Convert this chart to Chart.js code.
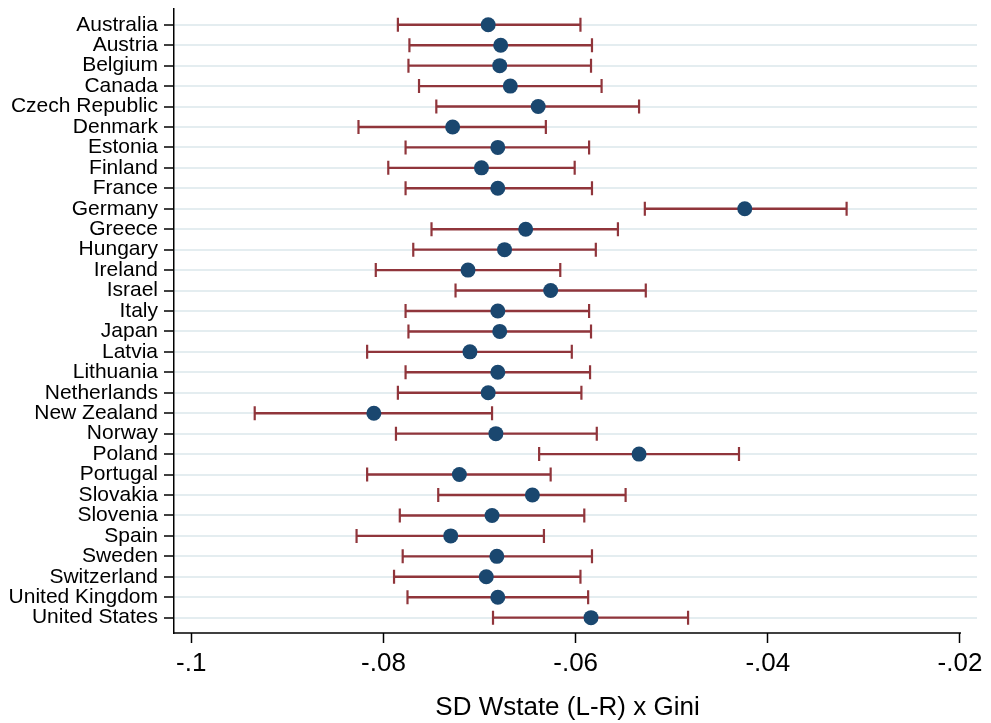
<!DOCTYPE html>
<html>
<head>
<meta charset="utf-8">
<script src="https://cdn.jsdelivr.net/npm/chart.js@4"></script>
<style>
	html, body { margin: 0; padding: 0; background: #ffffff; }
	canvas { display: block; }
</style>
</head>
<body>
<canvas id="coefPlot" width="991" height="723"></canvas>
<script>
// countries, top to bottom
const countries = ["Australia", "Austria", "Belgium", "Canada", "Czech Republic", "Denmark", "Estonia",
	"Finland", "France", "Germany", "Greece", "Hungary", "Ireland", "Israel", "Italy", "Japan", "Latvia",
	"Lithuania", "Netherlands", "New Zealand", "Norway", "Poland", "Portugal", "Slovakia", "Slovenia",
	"Spain", "Sweden", "Switzerland", "United Kingdom", "United States"];

const coef = [-0.0691, -0.0678, -0.0679, -0.0668, -0.0639, -0.0728, -0.0681, -0.0698, -0.0681, -0.0424,
	-0.0652, -0.0674, -0.0712, -0.0626, -0.0681, -0.0679, -0.0710, -0.0681, -0.0691, -0.0810,
	-0.0683, -0.0534, -0.0721, -0.0645, -0.0687, -0.0730, -0.0682, -0.0693, -0.0681, -0.0584];

const lower = [-0.0785, -0.0773, -0.0774, -0.0763, -0.0745, -0.0826, -0.0777, -0.0795, -0.0777, -0.0528,
	-0.0750, -0.0769, -0.0808, -0.0725, -0.0777, -0.0774, -0.0817, -0.0777, -0.0785, -0.0934,
	-0.0787, -0.0638, -0.0817, -0.0743, -0.0783, -0.0828, -0.0780, -0.0789, -0.0775, -0.0686];

const upper = [-0.0595, -0.0583, -0.0584, -0.0573, -0.0534, -0.0631, -0.0586, -0.0601, -0.0583, -0.0318,
	-0.0556, -0.0579, -0.0616, -0.0527, -0.0586, -0.0584, -0.0604, -0.0585, -0.0594, -0.0687,
	-0.0578, -0.0430, -0.0626, -0.0548, -0.0591, -0.0633, -0.0583, -0.0595, -0.0587, -0.0483];

const xTicks = [-0.1, -0.08, -0.06, -0.04, -0.02];
const xTickLabels = ["-.1", "-.08", "-.06", "-.04", "-.02"];
const xTitle = "SD Wstate (L-R) x Gini";

const fontFamily = "'Liberation Sans', Arial, Helvetica, sans-serif";

// dots
let points = [];
coef.forEach((v, i) => {
	points.push({ x: v, y: i });
});

// whiskers, one segment per country, broken by nulls
let whiskers = [];
countries.forEach((c, i) => {
	whiskers.push({ x: lower[i], y: i });
	whiskers.push({ x: upper[i], y: i });
	whiskers.push({ x: null, y: null });
});

// x axis line only spans up to the last tick, title centred on that span
const xAxisLine = {
	id: 'xAxisLine',
	afterDraw(chart) {
		let ctx = chart.ctx;
		let area = chart.chartArea;
		let xs = chart.scales.x;
		let right = xs.getPixelForValue(xTicks[xTicks.length - 1]) + 1;
		ctx.save();
		ctx.strokeStyle = '#000000';
		ctx.lineWidth = 1.5;
		ctx.beginPath();
		ctx.moveTo(area.left, area.bottom);
		ctx.lineTo(right, area.bottom);
		ctx.stroke();

		ctx.fillStyle = '#000000';
		ctx.font = '26px ' + fontFamily;
		ctx.textAlign = 'center';
		ctx.textBaseline = 'alphabetic';
		ctx.fillText(xTitle, (area.left + right) / 2, 715);
		ctx.restore();
	}
};

let target = document.getElementById('coefPlot');
new Chart(target, {
	type : 'scatter',
	data : {
		datasets : [{
			label : 'coef',
			data : points,
			order : 0,
			pointRadius : 7.5,
			pointHoverRadius : 7.5,
			backgroundColor : '#1a476f',
			borderWidth : 0
		}, {
			label : 'ci',
			data : whiskers,
			order : 1,
			showLine : true,
			spanGaps : false,
			borderColor : '#90353b',
			borderWidth : 2.4,
			pointStyle : 'line',
			rotation : 90,
			pointRadius : 7,
			pointHoverRadius : 7,
			pointBorderColor : '#90353b',
			pointBorderWidth : 2.2
		}]
	},
	options : {
		responsive : false,
		animation : false,
		events : [],
		layout : {
			padding : { top : 7, right : 14, left : 0, bottom : 0 }
		},
		plugins : {
			legend : { display : false },
			tooltip : { enabled : false }
		},
		scales : {
			x : {
				type : 'linear',
				min : -0.1018,
				max : -0.01823,
				afterBuildTicks : function(scale) {
					scale.ticks = xTicks.map(v => ({ value : v }));
				},
				afterFit : function(scale) {
					scale.height = 90;
					scale.paddingLeft = 0;
					scale.paddingRight = 0;
				},
				border : { display : false },
				grid : {
					drawOnChartArea : false,
					drawTicks : true,
					tickLength : 10,
					tickWidth : 1.5,
					tickColor : '#000000'
				},
				ticks : {
					autoSkip : false,
					maxRotation : 0,
					padding : 5,
					color : '#000000',
					font : { family : fontFamily, size : 26 },
					callback : function(value) {
						let idx = xTicks.indexOf(value);
						return idx >= 0 ? xTickLabels[idx] : '';
					}
				}
			},
			y : {
				type : 'linear',
				reverse : true,
				min : -0.76,
				max : 29.75,
				afterBuildTicks : function(scale) {
					scale.ticks = countries.map((c, i) => ({ value : i }));
				},
				afterFit : function(scale) {
					scale.width = 174;
					scale.paddingTop = 0;
					scale.paddingBottom = 0;
				},
				border : { display : true, color : '#000000', width : 1.5 },
				grid : {
					color : '#e4edf0',
					lineWidth : 2,
					drawTicks : true,
					tickLength : 10,
					tickWidth : 1.5,
					tickColor : '#000000'
				},
				ticks : {
					autoSkip : false,
					padding : 6,
					color : '#000000',
					font : { family : fontFamily, size : 21 },
					callback : function(value) {
						return countries[value];
					}
				}
			}
		}
	},
	plugins : [xAxisLine]
});
</script>
</body>
</html>
